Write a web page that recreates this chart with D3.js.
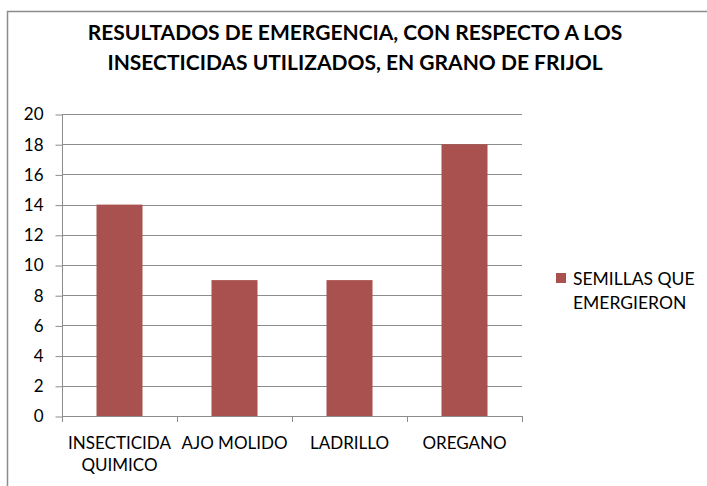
<!DOCTYPE html>
<html><head><meta charset="utf-8">
<script src="https://cdn.jsdelivr.net/npm/d3@7"></script>
<style>body{margin:0;background:#fff}svg{display:block}text{font-family:Lato,"Open Sans",sans-serif;fill:#000}</style>
</head><body>
<script>
const categories = [["INSECTICIDA","QUIMICO"],["AJO MOLIDO"],["LADRILLO"],["OREGANO"]];
const values = [14, 9, 9, 18];
const yTicks = [0,2,4,6,8,10,12,14,16,18,20];
const seriesName = ["SEMILLAS QUE","EMERGIERON"];
const titleLines = ["RESULTADOS DE EMERGENCIA, CON RESPECTO A LOS","INSECTICIDAS UTILIZADOS, EN GRANO DE FRIJOL"];

const W=707,H=486;
const svg=d3.select("body").append("svg").attr("width",W).attr("height",H);
// chart border
svg.append("path").attr("d",`M7.5,${H} L7.5,11.5 L${W},11.5`).attr("fill","none").attr("stroke","#8c8c8c").attr("stroke-width",1.5);

const x0=62,x1=522,yTop=114,yBot=416;
const keys=categories.map((c,i)=>i);
const x=d3.scaleBand().domain(keys).range([x0,x1]).paddingInner(0.6).paddingOuter(0.3);
const xb=d3.scaleBand().domain(keys).range([x0,x1]);
const y=d3.scaleLinear().domain([0,20]).range([yBot,yTop]);

// gridlines
svg.append("g").selectAll("line").data(yTicks.filter(t=>t>0)).join("line")
 .attr("x1",x0).attr("x2",x1).attr("y1",d=>Math.round(y(d))+0.5).attr("y2",d=>Math.round(y(d))+0.5)
 .attr("stroke","#8c8c8c").attr("stroke-width",1);

// y axis
const ya=svg.append("g").attr("transform",`translate(${x0+0.5},0.5)`)
 .call(d3.axisLeft(y).tickValues(yTicks).tickSize(7).tickPadding(12).tickFormat(d3.format("d")));
ya.select(".domain").attr("stroke","#8c8c8c").attr("d",`M0,${yTop}V${yBot}`);
ya.selectAll(".tick line").attr("stroke","#8c8c8c");
ya.selectAll(".tick text").attr("font-size",17).attr("font-family","Lato,'Open Sans',sans-serif").attr("fill","#000");

// bars
svg.append("g").selectAll("rect").data(values).join("rect")
 .attr("x",(d,i)=>x(i)).attr("width",x.bandwidth())
 .attr("y",d=>y(d)).attr("height",d=>yBot-y(d)).attr("fill","#a8514f");

// x axis
const xg=svg.append("g");
xg.append("line").attr("x1",x0).attr("x2",x1).attr("y1",yBot+0.5).attr("y2",yBot+0.5).attr("stroke","#8c8c8c");
const ticksX=keys.map(k=>xb(k)).concat([x1]);
xg.selectAll("line.t").data(ticksX).join("line").attr("class","t")
 .attr("x1",d=>Math.round(d)+0.5).attr("x2",d=>Math.round(d)+0.5).attr("y1",yBot).attr("y2",yBot+6).attr("stroke","#8c8c8c");
xg.selectAll("text").data(categories).join("text")
 .attr("text-anchor","middle").attr("font-size",17)
 .attr("transform",(d,i)=>`translate(${xb(i)+xb.bandwidth()/2},449)`)
 .selectAll("tspan").data(d=>d).join("tspan").attr("x",0).attr("dy",(d,j)=>j===0?0:22).text(d=>d);

// title
svg.append("text").attr("text-anchor","middle").attr("font-size",21).attr("font-weight","bold")
 .selectAll("tspan").data(titleLines).join("tspan").attr("x",355).attr("y",(d,i)=>40+i*30).text(d=>d);

// legend
svg.append("rect").attr("x",556).attr("y",273).attr("width",10).attr("height",10).attr("fill","#a8514f");
svg.append("text").attr("font-size",17.5)
 .selectAll("tspan").data(seriesName).join("tspan").attr("x",573).attr("y",(d,i)=>285+i*24).text(d=>d);
</script>
</body></html>
